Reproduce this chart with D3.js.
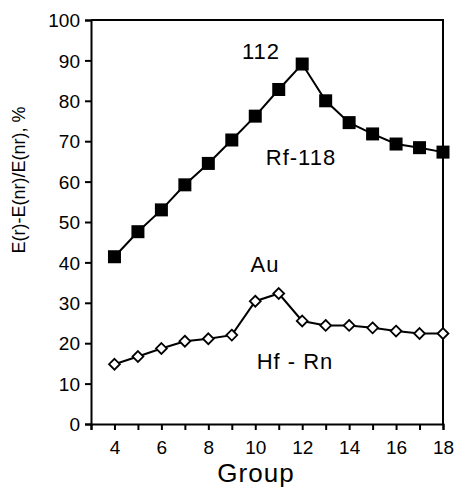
<!DOCTYPE html>
<html>
<head>
<meta charset="utf-8">
<script src="https://cdn.jsdelivr.net/npm/d3@7"></script>
<style>
  body { margin: 0; background: #fff; }
  text { font-family: Arial, "Liberation Sans", sans-serif; fill: #000; }
</style>
</head>
<body>
<div id="chart"></div>
<script>
// groups along the x axis
let groups = [4, 5, 6, 7, 8, 9, 10, 11, 12, 13, 14, 15, 16, 17, 18]
// Rf-118 (filled squares)
let heavy = [41.4, 47.6, 53.0, 59.2, 64.5, 70.3, 76.2, 82.8, 89.1, 80.0, 74.6, 71.8, 69.3, 68.4, 67.3]
// Hf - Rn (open diamonds)
let light = [14.8, 16.7, 18.7, 20.5, 21.1, 22.0, 30.4, 32.3, 25.5, 24.4, 24.4, 23.8, 23.0, 22.4, 22.4]
let yTicks = [0, 10, 20, 30, 40, 50, 60, 70, 80, 90, 100]
let xTickLabels = [4, 6, 8, 10, 12, 14, 16, 18]

let width = 456, height = 487
let margin = {top: 20, right: 13, bottom: 63, left: 91}

let svg = d3.select('#chart')
            .append('svg')
                .attr('width', width)
                .attr('height', height)

let x = d3.scaleLinear().domain([3, 18]).range([margin.left, width - margin.right])
let y = d3.scaleLinear().domain([0, 100]).range([height - margin.bottom, margin.top])

// frame: top and right lines
svg.append('path')
   .attr('d', `M${x(3)},${y(100)}H${x(18)}V${y(0)}`)
   .attr('fill', 'none')
   .attr('stroke', '#000')
   .attr('stroke-width', 2)

// y axis
let yAxis = svg.append('g')
   .attr('transform', `translate(${x(3)},0)`)
   .call(d3.axisLeft(y).tickValues(yTicks).tickSize(6).tickPadding(5))
yAxis.selectAll('path, line').attr('stroke', '#000').attr('stroke-width', 2)
yAxis.selectAll('text').style('font-size', '19px').attr('dy', '0.35em')

// x axis, ticks at every group, labels on even ones
let xAxis = svg.append('g')
   .attr('transform', `translate(0,${y(0)})`)
   .call(d3.axisBottom(x).tickValues(d3.range(3, 19)).tickSize(6).tickPadding(11)
           .tickFormat(d => xTickLabels.includes(d) ? d : ''))
xAxis.selectAll('path, line').attr('stroke', '#000').attr('stroke-width', 2)
xAxis.selectAll('text').style('font-size', '19px')

let line = d3.line().x((d, i) => x(groups[i])).y(d => y(d))

// Rf-118 series
svg.append('path').datum(heavy)
   .attr('d', line).attr('fill', 'none').attr('stroke', '#000').attr('stroke-width', 2)
svg.selectAll('.sq').data(heavy).enter().append('rect')
   .attr('x', (d, i) => x(groups[i]) - 6.5)
   .attr('y', d => y(d) - 6.5)
   .attr('width', 13).attr('height', 13)
   .attr('fill', '#000')

// Hf - Rn series
svg.append('path').datum(light)
   .attr('d', line).attr('fill', 'none').attr('stroke', '#000').attr('stroke-width', 2)
svg.selectAll('.dm').data(light).enter().append('path')
   .attr('d', d3.symbol().type(d3.symbolDiamond2).size(75))
   .attr('transform', (d, i) => `translate(${x(groups[i])},${y(d)})`)
   .attr('fill', '#fff').attr('stroke', '#000').attr('stroke-width', 1.8)

// annotations
let notes = [
  {t: '112', x: 261, y: 59},
  {t: 'Rf-118', x: 301, y: 165},
  {t: 'Au', x: 265, y: 272},
  {t: 'Hf - Rn', x: 295, y: 369}
]
svg.selectAll('.note').data(notes).enter().append('text')
   .attr('x', d => d.x).attr('y', d => d.y)
   .attr('text-anchor', 'middle')
   .style('font-size', '22px')
   .style('letter-spacing', '1px')
   .text(d => d.t)

// axis titles
svg.append('text')
   .attr('x', 256).attr('y', 482)
   .attr('text-anchor', 'middle')
   .style('font-size', '26px')
   .style('letter-spacing', '1px')
   .text('Group')

svg.append('text')
   .attr('transform', 'translate(25,180) rotate(-90)')
   .attr('text-anchor', 'middle')
   .style('font-size', '18px')
   .text('E(r)-E(nr)/E(nr),  %')
</script>
</body>
</html>
